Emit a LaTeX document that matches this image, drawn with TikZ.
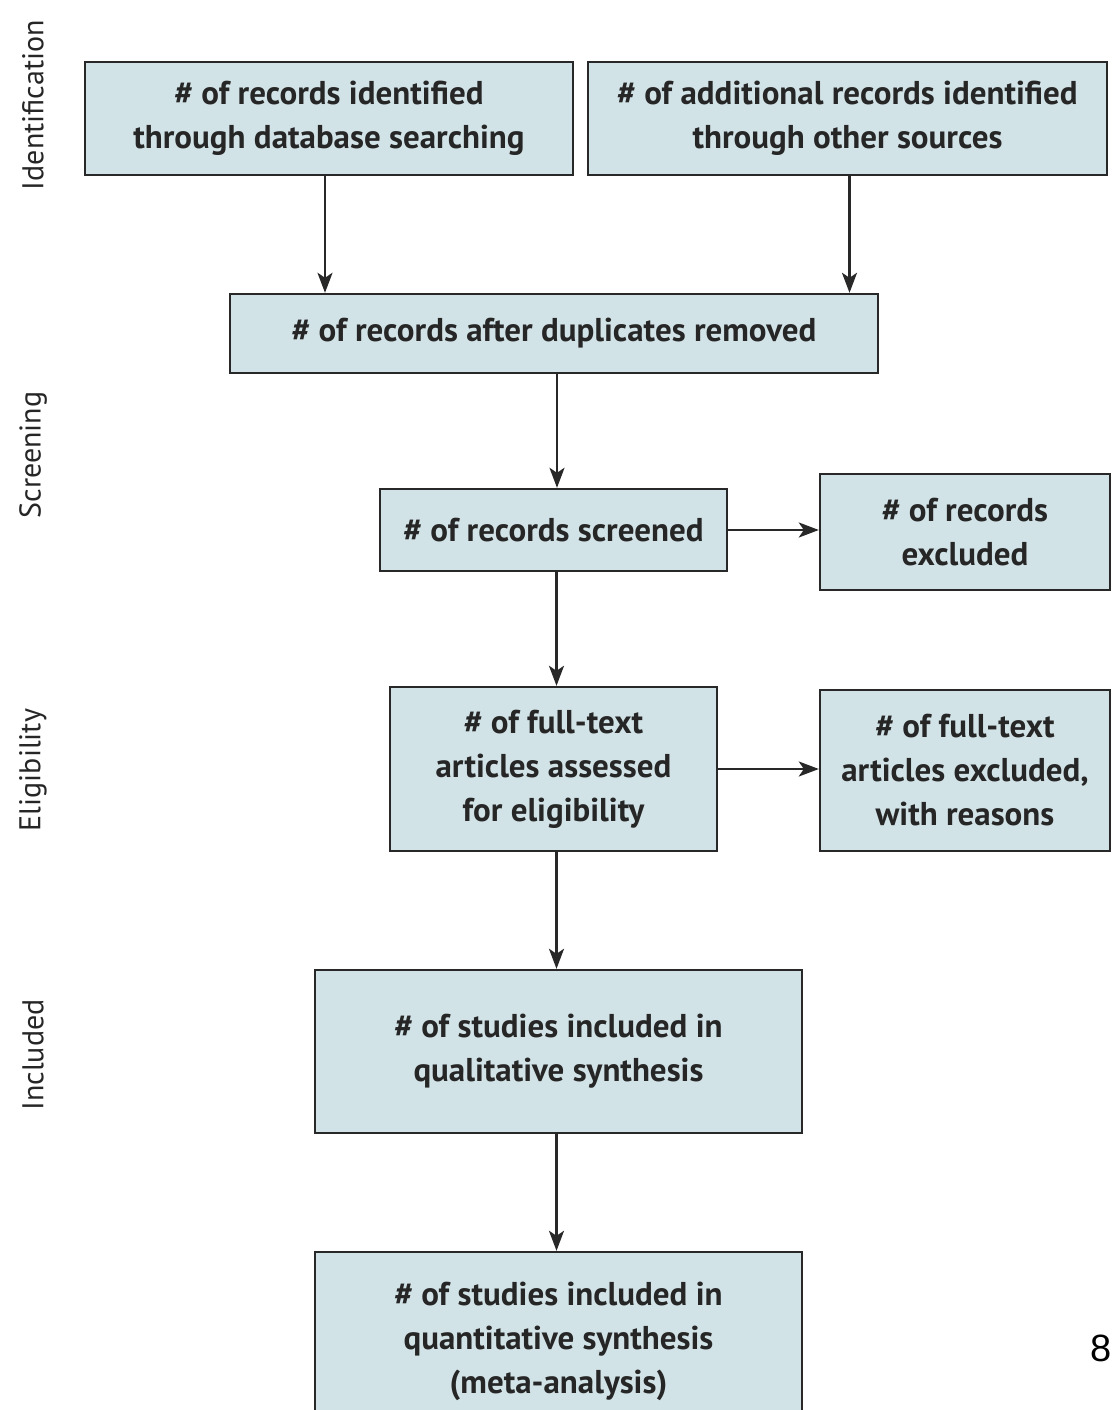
\documentclass[tikz,border=0pt]{standalone}
\usepackage{fontspec}
\setmainfont{PT Sans}
\newfontfamily\boxfont{PT Sans}
\newfontfamily\pagefont{Liberation Sans}
\usetikzlibrary{arrows.meta}
\definecolor{boxfill}{RGB}{210,227,231}
\definecolor{boxline}{RGB}{40,40,40}
\definecolor{txt}{RGB}{38,38,38}
\begin{document}
\begin{tikzpicture}[x=1pt,y=-1pt,
  flowbox/.style={draw=boxline, fill=boxfill, line width=2.4pt, rectangle,
    align=center, text=txt, inner sep=0pt,
    font=\boxfont\bfseries\fontsize{33}{44}\selectfont},
  arr/.style={draw=boxline, line width=2.2pt, -{Stealth[length=20pt,width=15pt,inset=5pt]}},
  phase/.style={rotate=90, text=txt, inner sep=0pt,
    font=\fontsize{30}{32}\selectfont}
]
\useasboundingbox (0,0) rectangle (1118,1410);
\clip (0,0) rectangle (1118,1410);
\fill[white] (0,0) rectangle (1118,1410);

\node[phase] (p1) at (33,105) {Identification};
\node[phase] (p2) at (33,455) {Screening};
\node[phase] (p3) at (33,770) {Eligibility};
\node[phase] (p4) at (33,1055) {Included};

\node[flowbox, minimum width=488pt, minimum height=113pt] (A) at (329,118.5)
  {\# of records identified\\through database searching};
\node[flowbox, minimum width=519pt, minimum height=113pt] (B) at (847.5,118.5)
  {\# of additional records identified\\through other sources};
\node[flowbox, minimum width=648pt, minimum height=79pt] (C) at (554,333.5)
  {\# of records after duplicates removed};
\node[flowbox, minimum width=347pt, minimum height=82pt] (D) at (553.5,530)
  {\# of records screened};
\node[flowbox, minimum width=290pt, minimum height=116pt] (E) at (965,532)
  {\# of records\\excluded};
\node[flowbox, minimum width=327pt, minimum height=164pt] (F) at (553.5,769)
  {\# of full-text\\articles assessed\\for eligibility};
\node[flowbox, minimum width=290pt, minimum height=161pt] (G) at (965,770.5)
  {\# of full-text\\articles excluded,\\with reasons};
\node[flowbox, minimum width=487pt, minimum height=178pt] (I) at (558.5,1341)
  {\# of studies included in\\quantitative synthesis\\(meta-analysis)};
\node[flowbox, minimum width=487pt, minimum height=163pt] (H) at (558.5,1051.5)
  {\# of studies included in\\qualitative synthesis};
\node[font=\pagefont\fontsize{38}{40}\selectfont, inner sep=0pt] (pg) at (1101,1348) {8};

\draw[arr] ([xshift=-4pt]A.south) -- ([xshift=-4pt]A.south |- C.north);
\draw[arr] ([xshift=2pt]B.south) -- ([xshift=2pt]B.south |- C.north);
\draw[arr] ([xshift=3pt]C.south) -- ([xshift=3pt]C.south |- D.north);
\draw[arr] (D.east) -- (E.west |- D.east);
\draw[arr] ([xshift=3pt]D.south) -- ([xshift=3pt]D.south |- F.north);
\draw[arr] (F.east) -- (F.east -| G.west);
\draw[arr] ([xshift=3pt]F.south) -- ([xshift=3pt]F.south |- H.north);
\draw[arr] ([xshift=-2pt]H.south) -- ([xshift=-2pt]H.south |- I.north);
\end{tikzpicture}
\end{document}
